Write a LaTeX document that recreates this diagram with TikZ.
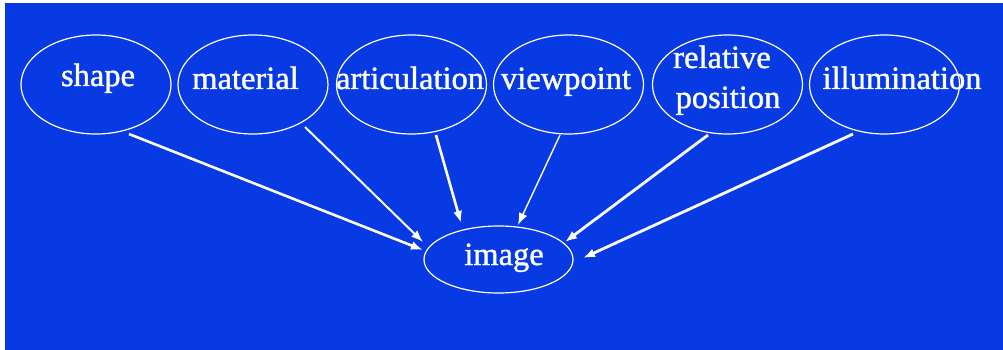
\documentclass[tikz,border=0pt]{standalone}
\usepackage{fontspec}
\setmainfont{Liberation Serif}[FakeBold=1.2]
\usetikzlibrary{shapes.geometric,arrows.meta}
\definecolor{bg}{RGB}{8,58,228}
\tikzset{
  oval/.style={ellipse, draw=white, line width=1.2pt, inner sep=0pt, minimum width=150pt, minimum height=99pt},
  lbl/.style={text=white, anchor=base, inner sep=0pt, font=\fontsize{32.5}{40}\selectfont},
  arr/.style={white, -{Latex[length=12pt,width=9pt]}},
}
\begin{document}
\begin{tikzpicture}[x=1pt,y=-1pt]
\useasboundingbox (0,0) rectangle (1003,350);
\fill[white] (0,0) rectangle (1003,350);
\fill[bg] (5,3) rectangle (1003,350);
% top ellipses
\node[oval] (shape) at (96,84.5) {};
\node[oval] (material) at (253,84.5) {};
\node[oval] (artic) at (411.5,84.5) {};
\node[oval] (view) at (568.5,84.5) {};
\node[oval] (relpos) at (727.5,84.5) {};
\node[oval] (illum) at (884.5,84.5) {};
\node[oval, minimum width=149pt, minimum height=67pt] (image) at (498.5,259.5) {};
% labels
\node[lbl] (tshape) at (98,86) {shape};
\node[lbl] (tmaterial) at (245.5,89) {material};
\node[lbl] (tartic) at (410,89) {articulation};
\node[lbl] (tview) at (566,89) {viewpoint};
\node[lbl] (trel) at (722,68) {relative};
\node[lbl] (tpos) at (728,108) {position};
\node[lbl] (tillum) at (902,89) {illumination};
\node[lbl] (timage) at (504,265) {image};
% arrows
\draw[arr, line width=2.6pt] ([shift={(33,49.5)}]shape.center) -- ([shift={(-75.5,-9.5)}]image.center);
\draw[arr, line width=2pt] ([shift={(52,42.5)}]material.center) -- ([shift={(-75.5,-17.5)}]image.center);
\draw[arr, line width=2.6pt] ([shift={(24.5,50.5)}]artic.center) -- ([shift={(-37.5,-36.5)}]image.center);
\draw[arr, line width=1.4pt] ([shift={(-8.5,50.5)}]view.center) -- ([shift={(19.5,-34.5)}]image.center);
\draw[arr, line width=2.8pt] ([shift={(-19.5,50.5)}]relpos.center) -- ([shift={(66.5,-17.5)}]image.center);
\draw[arr, line width=2.8pt] ([shift={(-31.5,49.5)}]illum.center) -- ([shift={(84.5,-1.5)}]image.center);
\end{tikzpicture}
\end{document}
